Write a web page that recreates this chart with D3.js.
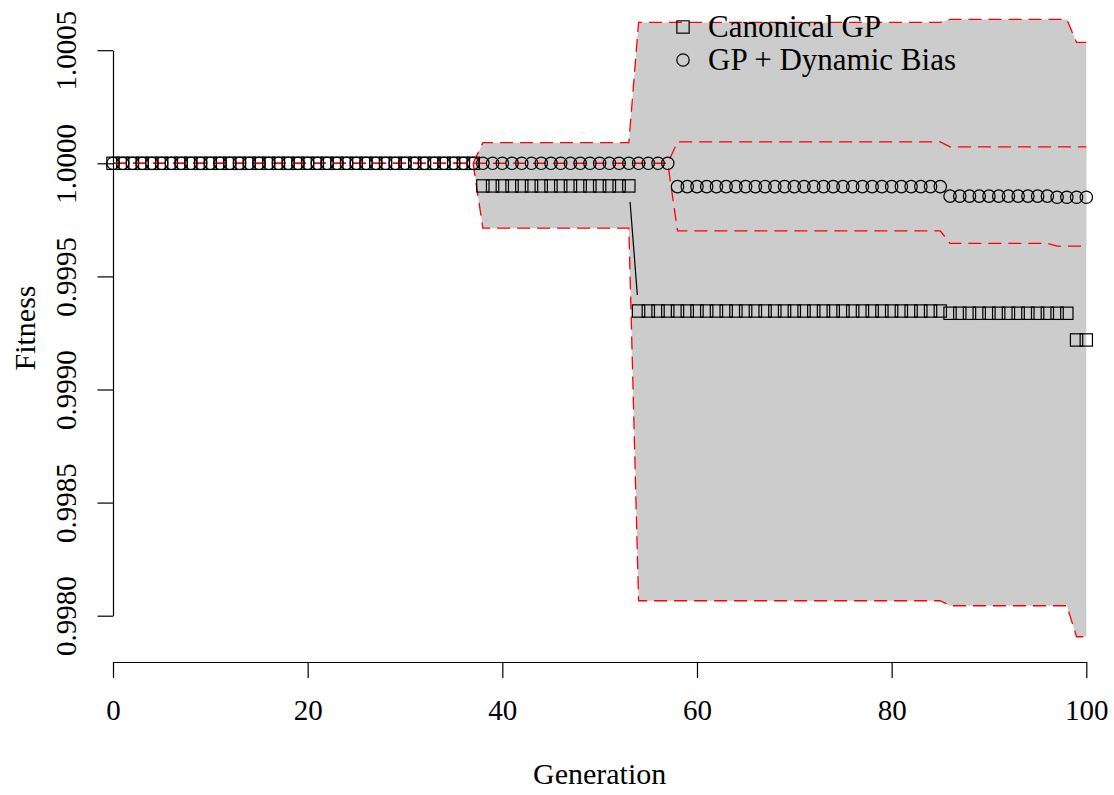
<!DOCTYPE html>
<html><head><meta charset="utf-8">
<script src="https://cdn.jsdelivr.net/npm/d3@7"></script>
<style>
body{margin:0;background:#fff}
svg{display:block}
text{font-family:"Liberation Serif","DejaVu Serif",serif;fill:#000}
</style>
</head><body>
<svg id="chart" width="1114" height="795"></svg>
<script>
// ---- data ----
const generations = [
  0,1,2,3,4,5,6,7,8,9,10,11,12,13,14,15,16,17,18,19,
  20,21,22,23,24,25,26,27,28,29,30,31,32,33,34,35,36,37,38,39,
  40,41,42,43,44,45,46,47,48,49,50,51,52,53,54,55,56,57,58,59,
  60,61,62,63,64,65,66,67,68,69,70,71,72,73,74,75,76,77,78,79,
  80,81,82,83,84,85,86,87,88,89,90,91,92,93,94,95,96,97,98,99,100];

const canonicalMean = [
  1,1,1,1,1,1,1,1,1,1,
  1,1,1,1,1,1,1,1,1,1,
  1,1,1,1,1,1,1,1,1,1,
  1,1,1,1,1,1,1,1,0.9999,0.9999,
  0.9999,0.9999,0.9999,0.9999,0.9999,0.9999,0.9999,0.9999,0.9999,0.9999,
  0.9999,0.9999,0.9999,0.9999,0.999347,0.999347,0.999347,0.999347,0.999347,0.999347,
  0.999347,0.999347,0.999347,0.999347,0.999347,0.999347,0.999347,0.999347,0.999347,0.999347,
  0.999347,0.999347,0.999347,0.999347,0.999347,0.999347,0.999347,0.999347,0.999347,0.999347,
  0.999347,0.999347,0.999347,0.999347,0.999347,0.999347,0.999337,0.999337,0.999337,0.999337,
  0.999337,0.999337,0.999337,0.999337,0.999337,0.999337,0.999337,0.999337,0.999337,0.999219,
  0.999219];

const canonicalUpper = [
  1,1,1,1,1,1,1,1,1,1,
  1,1,1,1,1,1,1,1,1,1,
  1,1,1,1,1,1,1,1,1,1,
  1,1,1,1,1,1,1,1,1.000091,1.000091,
  1.000091,1.000091,1.000091,1.000091,1.000091,1.000091,1.000091,1.000091,1.000091,1.000091,
  1.000091,1.000091,1.000091,1.000091,1.000623,1.000623,1.000623,1.000623,1.000623,1.000623,
  1.000623,1.000623,1.000623,1.000623,1.000623,1.000623,1.000623,1.000623,1.000623,1.000623,
  1.000623,1.000623,1.000623,1.000623,1.000623,1.000623,1.000623,1.000623,1.000623,1.000623,
  1.000623,1.000623,1.000623,1.000623,1.000623,1.000623,1.000636,1.000636,1.000636,1.000636,
  1.000636,1.000636,1.000636,1.000636,1.000636,1.000636,1.000636,1.000636,1.000636,1.000535,
  1.000535];

const canonicalLower = [
  1,1,1,1,1,1,1,1,1,1,
  1,1,1,1,1,1,1,1,1,1,
  1,1,1,1,1,1,1,1,1,1,
  1,1,1,1,1,1,1,1,0.999713,0.999713,
  0.999713,0.999713,0.999713,0.999713,0.999713,0.999713,0.999713,0.999713,0.999713,0.999713,
  0.999713,0.999713,0.999713,0.999713,0.998066,0.998066,0.998066,0.998066,0.998066,0.998066,
  0.998066,0.998066,0.998066,0.998066,0.998066,0.998066,0.998066,0.998066,0.998066,0.998066,
  0.998066,0.998066,0.998066,0.998066,0.998066,0.998066,0.998066,0.998066,0.998066,0.998066,
  0.998066,0.998066,0.998066,0.998066,0.998066,0.998066,0.998044,0.998044,0.998044,0.998044,
  0.998044,0.998044,0.998044,0.998044,0.998044,0.998044,0.998044,0.998044,0.998044,0.997907,
  0.997907];

const dynamicMean = [
  1,1,1,1,1,1,1,1,1,1,
  1,1,1,1,1,1,1,1,1,1,
  1,1,1,1,1,1,1,1,1,1,
  1,1,1,1,1,1,1,1,1,1,
  1,1,1,1,1,1,1,1,1,1,
  1,1,1,1,1,1,1,1,0.999897,0.999897,
  0.999897,0.999897,0.999897,0.999897,0.999897,0.999897,0.999897,0.999897,0.999897,0.999897,
  0.999897,0.999897,0.999897,0.999897,0.999897,0.999897,0.999897,0.999897,0.999897,0.999897,
  0.999897,0.999897,0.999897,0.999897,0.999897,0.999897,0.999855,0.999855,0.999855,0.999855,
  0.999855,0.999855,0.999855,0.999855,0.999855,0.999855,0.999855,0.99985,0.99985,0.99985,
  0.99985];

const dynamicUpper = [
  1,1,1,1,1,1,1,1,1,1,
  1,1,1,1,1,1,1,1,1,1,
  1,1,1,1,1,1,1,1,1,1,
  1,1,1,1,1,1,1,1,1,1,
  1,1,1,1,1,1,1,1,1,1,
  1,1,1,1,1,1,1,1,1.000095,1.000095,
  1.000095,1.000095,1.000095,1.000095,1.000095,1.000095,1.000095,1.000095,1.000095,1.000095,
  1.000095,1.000095,1.000095,1.000095,1.000095,1.000095,1.000095,1.000095,1.000095,1.000095,
  1.000095,1.000095,1.000095,1.000095,1.000095,1.000095,1.000073,1.000073,1.000073,1.000073,
  1.000073,1.000073,1.000073,1.000073,1.000073,1.000073,1.000073,1.000073,1.000073,1.000073,
  1.000073];

const dynamicLower = [
  1,1,1,1,1,1,1,1,1,1,
  1,1,1,1,1,1,1,1,1,1,
  1,1,1,1,1,1,1,1,1,1,
  1,1,1,1,1,1,1,1,1,1,
  1,1,1,1,1,1,1,1,1,1,
  1,1,1,1,1,1,1,1,0.999701,0.999701,
  0.999701,0.999701,0.999701,0.999701,0.999701,0.999701,0.999701,0.999701,0.999701,0.999701,
  0.999701,0.999701,0.999701,0.999701,0.999701,0.999701,0.999701,0.999701,0.999701,0.999701,
  0.999701,0.999701,0.999701,0.999701,0.999701,0.999701,0.999646,0.999646,0.999646,0.999646,
  0.999646,0.999646,0.999646,0.999646,0.999646,0.999646,0.999646,0.999634,0.999634,0.999634,
  0.999634];

const xTicks = [0, 20, 40, 60, 80, 100];
const yTicks = [0.998, 0.9985, 0.999, 0.9995, 1.0, 1.0005];
const legendLabels = ["Canonical GP", "GP + Dynamic Bias"];
const xTitle = "Generation";
const yTitle = "Fitness";

// ---- drawing ----
const svg = d3.select("#chart");
svg.append("rect").attr("width",1114).attr("height",795).attr("fill","#fff");

const x = d3.scaleLinear().domain([0,100]).range([113, 1086.3]);
const y = d3.scaleLinear().domain([0.998, 1.0005]).range([615.7, 50.2]);

const FONT = 29;
const GREY = "#cccccc";

function band(upper, lower) {
  const data = generations.map((g,i)=>({g, u:upper[i], l:lower[i]}));
  const area = d3.area().x(d=>x(d.g)).y0(d=>y(d.l)).y1(d=>y(d.u));
  return {data, area};
}
const bands = [band(canonicalUpper, canonicalLower), band(dynamicUpper, dynamicLower)];
bands.forEach(b=>{
  svg.append("path").datum(b.data).attr("d", b.area).attr("fill", GREY).attr("stroke","none");
});
const line = d3.line().x(d=>x(d[0])).y(d=>y(d[1]));
[canonicalUpper, canonicalLower, dynamicUpper, dynamicLower].forEach(arr=>{
  svg.append("path")
    .datum(generations.map((g,i)=>[g, arr[i]]))
    .attr("d", line)
    .attr("fill","none")
    .attr("stroke","#ff0000")
    .attr("stroke-width",1.3)
    .attr("stroke-dasharray","13,7");
});

// type "b" connecting segments with gaps around points
function gapSegments(vals) {
  const gap = 16;
  const segs = [];
  for (let i=0;i<generations.length-1;i++){
    const x1=x(generations[i]), y1=y(vals[i]), x2=x(generations[i+1]), y2=y(vals[i+1]);
    const dx=x2-x1, dy=y2-y1, d=Math.hypot(dx,dy);
    if (d > 2*gap) {
      const ux=dx/d, uy=dy/d;
      segs.push([x1+ux*gap, y1+uy*gap, x2-ux*gap, y2-uy*gap]);
    }
  }
  return segs;
}
[canonicalMean, dynamicMean].forEach(vals=>{
  svg.selectAll(null).data(gapSegments(vals)).enter().append("line")
    .attr("x1",d=>d[0]).attr("y1",d=>d[1]).attr("x2",d=>d[2]).attr("y2",d=>d[3])
    .attr("stroke","#000").attr("stroke-width",1.2);
});

const SQ = 12.3, R = 6.2;
svg.append("g").selectAll("rect").data(generations).enter().append("rect")
  .attr("x", g=>x(g)-SQ/2).attr("y",(g,i)=>y(canonicalMean[i])-SQ/2)
  .attr("width",SQ).attr("height",SQ)
  .attr("fill","none").attr("stroke","#000").attr("stroke-width",1.2);
svg.append("g").selectAll("circle").data(generations).enter().append("circle")
  .attr("cx", g=>x(g)).attr("cy",(g,i)=>y(dynamicMean[i])).attr("r",R)
  .attr("fill","none").attr("stroke","#000").attr("stroke-width",1.2);

// axes
const yAxis = d3.axisLeft(y).tickValues(yTicks).tickFormat(d3.format(".4f")).tickSize(15.5).tickSizeOuter(0);
const gy = svg.append("g").attr("transform","translate(113,0)").call(yAxis);
gy.select(".domain").attr("stroke","#000").attr("stroke-width",1.2);
gy.selectAll(".tick line").attr("stroke","#000").attr("stroke-width",1.2);
gy.selectAll(".tick text")
  .attr("x",null).attr("dy",null).attr("y",null)
  .attr("transform","translate(-37.5,0) rotate(-90)")
  .attr("text-anchor","middle")
  .style("font-size",FONT+"px").style("font-family",'"Liberation Serif",serif').attr("fill","#000");

const xAxis = d3.axisBottom(x).tickValues(xTicks).tickFormat(d3.format("d")).tickSize(16).tickSizeOuter(0);
const gx = svg.append("g").attr("transform","translate(0,662)").call(xAxis);
gx.select(".domain").attr("stroke","#000").attr("stroke-width",1.2);
gx.selectAll(".tick line").attr("stroke","#000").attr("stroke-width",1.2);
gx.selectAll(".tick text").attr("dy",null).attr("y",58)
  .style("font-size",FONT+"px").style("font-family",'"Liberation Serif",serif').attr("fill","#000");

// axis titles
svg.append("text").attr("x",(x.range()[0]+x.range()[1])/2).attr("y",784)
  .attr("text-anchor","middle").style("font-size",(FONT+1)+"px").text(xTitle);
svg.append("text").attr("transform","translate(35,328) rotate(-90)")
  .attr("text-anchor","middle").style("font-size",(FONT+1)+"px").text(yTitle);

// legend
const lg = svg.append("g");
lg.append("rect").attr("x",683-SQ/2).attr("y",27-SQ/2).attr("width",SQ).attr("height",SQ)
  .attr("fill","none").attr("stroke","#000").attr("stroke-width",1.2);
lg.append("circle").attr("cx",683).attr("cy",60).attr("r",R)
  .attr("fill","none").attr("stroke","#000").attr("stroke-width",1.2);
lg.append("text").attr("x",708).attr("y",37).style("font-size","31px").text(legendLabels[0]);
lg.append("text").attr("x",708).attr("y",70).style("font-size","31px").text(legendLabels[1]);
</script>
</body></html>
